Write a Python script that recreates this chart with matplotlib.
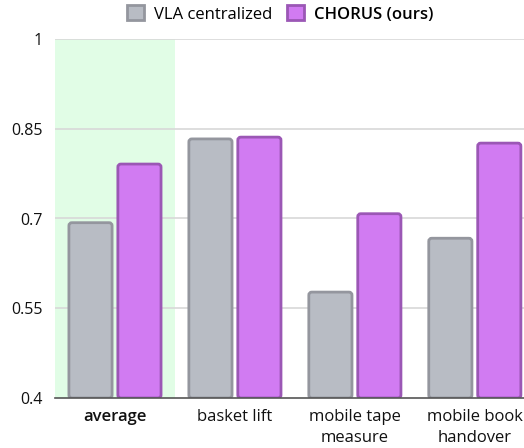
import matplotlib
matplotlib.use("Agg")
import matplotlib.pyplot as plt
from matplotlib.patches import FancyBboxPatch, Patch
import numpy as np

categories = ["average", "basket lift", "mobile tape\nmeasure", "mobile book\nhandover"]
vla_centralized = [0.693, 0.833, 0.577, 0.667]
chorus = [0.791, 0.836, 0.708, 0.826]
yticks = [0.4, 0.55, 0.7, 0.85, 1.0]
ytick_labels = ["0.4", "0.55", "0.7", "0.85", "1"]

plt.rcParams['font.family'] = ['Open Sans', 'DejaVu Sans']

fig = plt.figure(figsize=(5.24, 4.48), dpi=100)
ax = fig.add_axes([55/524, 50/448, 1 - 55/524, (398-39)/448])

x = np.arange(len(categories))
w = 0.36
off = 0.204
vla_face, vla_edge = "#b8bcc4", "#94969e"
ch_face, ch_edge = "#d17bf2", "#9b57b5"

ax.axvspan(-0.5, 0.5, color="#e1fde6", zorder=0, lw=0)

for vals, dx, fc, ec in [(vla_centralized, -off, vla_face, vla_edge), (chorus, off, ch_face, ch_edge)]:
    bars = ax.bar(x + dx, np.array(vals) - 0.4, width=w, bottom=0.4, color=fc, edgecolor=ec)
    for b in bars:
        b.set_visible(False)
        bx, by = b.get_x(), b.get_y()
        bw, bh = b.get_width(), b.get_height()
        p = FancyBboxPatch((bx, by), bw, bh, boxstyle="round,pad=0,rounding_size=0.025",
                           mutation_aspect=0.2, facecolor=fc, edgecolor=ec, linewidth=2, zorder=3)
        ax.add_patch(p)

ax.set_xlim(-0.5, 3.41)
ax.set_ylim(0.4, 1.0)
ax.set_yticks(yticks)
ax.set_yticklabels(ytick_labels, fontsize=11.5, color="#111111")
ax.set_xticks(x)
ax.set_xticklabels(categories, fontsize=12, color="#111111", linespacing=1.4)
ax.get_xticklabels()[0].set_fontweight("semibold")
ax.tick_params(axis='both', length=0)
ax.tick_params(axis='x', pad=8)
ax.tick_params(axis='y', pad=9)
for yv in yticks[1:]:
    ax.axhline(yv, color="#d8d8d8", lw=1.2, zorder=1)
for s in ["top", "right", "left"]:
    ax.spines[s].set_visible(False)
ax.spines["bottom"].set_color("#555555")
ax.spines["bottom"].set_linewidth(1.2)
ax.spines["bottom"].set_zorder(4)

handles = [Patch(facecolor=vla_face, edgecolor=vla_edge, linewidth=2, label="VLA centralized"),
           Patch(facecolor=ch_face, edgecolor=ch_edge, linewidth=2, label="CHORUS (ours)")]
leg = fig.legend(handles=handles, loc="center", bbox_to_anchor=(0.535, 1 - 14/448),
                 ncol=2, frameon=False, fontsize=12, handlelength=1.0, handleheight=1.0,
                 handletextpad=0.6, columnspacing=0.9)
leg.get_texts()[1].set_fontweight("semibold")

fig.savefig("out.png", dpi=100)
